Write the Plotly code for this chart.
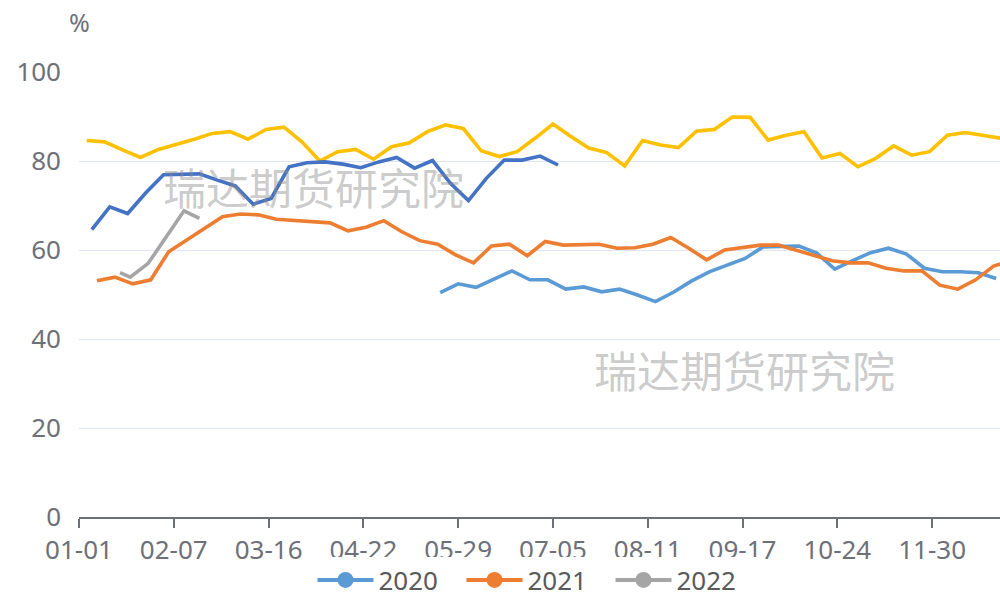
import pandas as pd
import plotly.graph_objects as go

# ---- data ----
all_days = pd.date_range("2021-01-01", "2021-12-31", freq="D").strftime("%m-%d").tolist()
tick_labels = ["01-01", "02-07", "03-16", "04-22", "05-29", "07-05", "08-11", "09-17", "10-24", "11-30"]

start_2020 = "05-22"
values_2020 = [50.4, 52.4, 51.6, 53.4, 55.3, 53.3, 53.3, 51.2, 51.7, 50.6, 51.2, 49.9, 48.4, 50.5,
               53.0, 55.1, 56.6, 58.1, 60.7, 60.9, 60.9, 59.3, 55.7, 57.6, 59.4, 60.4, 59.1, 55.9,
               55.1, 55.1, 54.9, 53.6]

start_2021 = "01-08"
values_2021 = [53.1, 53.9, 52.4, 53.3, 59.6, 62.2, 64.9, 67.5, 68.1, 67.9, 66.9, 66.7, 66.4, 66.1,
               64.3, 65.1, 66.6, 64.1, 62.1, 61.3, 58.9, 57.1, 60.9, 61.3, 58.7, 61.9, 61.1, 61.1,
               61.3, 60.4, 60.5, 61.3, 62.8, 60.4, 57.8, 60.0, 60.6, 61.1, 61.1, 60.0, 58.9, 57.6,
               57.1, 57.1, 55.9, 55.3, 55.3, 52.1, 51.2, 53.3, 56.4, 57.6]

dates_2022 = ["01-17", "01-21", "01-28", "02-04", "02-11", "02-17"]
values_2022 = [54.9, 53.9, 57.0, 62.9, 68.8, 67.1]

start_2023 = "01-04"
values_2023 = [84.6, 84.3, 82.5, 80.8, 82.6, 83.7, 84.9, 86.2, 86.6, 84.9, 87.1, 87.6, 84.3, 80.0,
               82.1, 82.6, 80.4, 83.2, 84.1, 86.6, 88.1, 87.3, 82.3, 81.0, 82.1, 85.1, 88.3, 85.5,
               82.9, 81.9, 78.9, 84.6, 83.6, 83.0, 86.7, 87.1, 89.9, 89.8, 84.7, 85.8, 86.6, 80.7,
               81.7, 78.7, 80.6, 83.4, 81.3, 82.1, 85.8, 86.4, 85.7, 85.1]

start_2024 = "01-06"
values_2024 = [64.6, 69.7, 68.2, 72.8, 76.9, 76.9, 77.1, 75.7, 74.4, 70.3, 71.6, 78.7, 79.6, 79.8,
               79.3, 78.5, 79.8, 80.8, 78.4, 80.1, 75.0, 71.1, 76.1, 80.2, 80.2, 81.1, 79.1]

series_names = ["2020", "2021", "2022", "2023", "2024"]
colors = ["#5B9BD5", "#ED7D31", "#A5A5A5", "#FFC000", "#4472C4"]
legend_names = ["2020", "2021", "2022"]
watermark = "瑞达期货研究院"


def weekly(start, n):
    return pd.date_range("2021-" + start, periods=n, freq="7D").strftime("%m-%d").tolist()


xs = [weekly(start_2020, len(values_2020)), weekly(start_2021, len(values_2021)), dates_2022,
      weekly(start_2023, len(values_2023)), weekly(start_2024, len(values_2024))]
ys = [values_2020, values_2021, values_2022, values_2023, values_2024]

fig = go.Figure()
for name, c, x, y in zip(series_names, colors, xs, ys):
    fig.add_trace(go.Scatter(x=x, y=y, mode="lines", name=name, showlegend=False,
                             line=dict(color=c, width=3.6), hoverinfo="x+y+name"))

# legend entries
for name, c in zip(series_names, colors):
    if name in legend_names:
        fig.add_trace(go.Scatter(x=[None], y=[None], mode="lines+markers", name=name,
                                 line=dict(color=c, width=4), marker=dict(color=c, size=20)))

font_family = "Noto Sans, Open Sans, sans-serif"
axis_color = "#6E7079"

fig.update_xaxes(type="category", categoryorder="array", categoryarray=all_days,
                 range=[0, 359.5], tickmode="array", tickvals=tick_labels, ticktext=tick_labels,
                 showgrid=False, showline=True, linecolor=axis_color, linewidth=2,
                 ticks="outside", ticklen=9, tickcolor=axis_color, tickwidth=2,
                 tickfont=dict(size=26, color=axis_color, family=font_family), zeroline=False)
fig.update_yaxes(range=[0, 100], tickvals=[0, 20, 40, 60, 80, 100], showgrid=True,
                 gridcolor="#E0E6F1", gridwidth=1.2, zeroline=False, showline=False,
                 ticklabelstandoff=17,
                 tickfont=dict(size=26, color=axis_color, family=font_family))

fig.add_annotation(text="%", xref="paper", yref="paper", x=0, y=1, yshift=50,
                   showarrow=False, font=dict(size=25, color=axis_color, family=font_family),
                   xanchor="center", yanchor="middle")

wm_font = dict(size=43, color="rgba(140,140,140,0.45)", family="Noto Sans CJK SC")
fig.add_annotation(text=watermark, xref="paper", yref="paper",
                   x=(313 - 79) / 921, y=(517 - 186) / 445, showarrow=False, font=wm_font,
                   xanchor="center", yanchor="middle")
fig.add_annotation(text=watermark, xref="paper", yref="paper",
                   x=(744 - 79) / 921, y=(517 - 369) / 445, showarrow=False, font=wm_font,
                   xanchor="center", yanchor="middle")

fig.update_layout(
    width=1000, height=594,
    margin=dict(l=79, r=0, t=72, b=77, autoexpand=False),
    plot_bgcolor="white", paper_bgcolor="white",
    font=dict(family=font_family, color=axis_color),
    legend=dict(orientation="h", xref="paper", yref="paper",
                x=(536 - 79) / 921, y=(517 - 580) / 445,
                xanchor="center", yanchor="middle", font=dict(size=26, color="#5a5a5a"),
                itemwidth=56, entrywidth=78, entrywidthmode="pixels", tracegroupgap=0),
)

fig.write_html("out.html", config={"displayModeBar": False},
               post_script="document.body.style.margin='0';document.body.style.overflow='hidden';")
